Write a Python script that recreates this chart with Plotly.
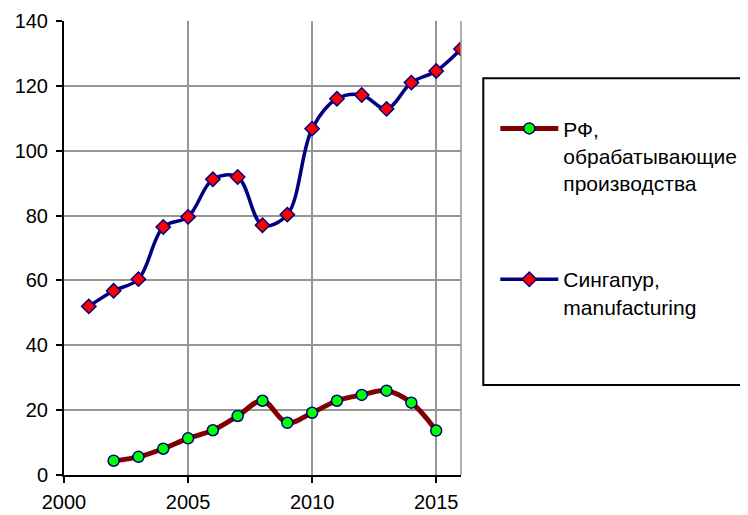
import plotly.graph_objects as go

years_sg = [2001, 2002, 2003, 2004, 2005, 2006, 2007, 2008, 2009, 2010, 2011, 2012, 2013, 2014, 2015, 2016]
sg_values = [52.0, 56.8, 60.4, 76.5, 79.6, 91.2, 91.9, 77.0, 80.3, 106.8, 116.0, 117.2, 112.9, 121.0, 124.6, 131.4]

years_rf = [2002, 2003, 2004, 2005, 2006, 2007, 2008, 2009, 2010, 2011, 2012, 2013, 2014, 2015]
rf_values = [4.4, 5.6, 8.1, 11.3, 13.8, 18.2, 22.9, 16.1, 19.2, 22.9, 24.7, 26.0, 22.3, 13.7]

name_rf = "РФ,<br>обрабатывающие<br>производства"
name_sg = "Сингапур,<br>manufacturing"

x_ticks = [2000, 2005, 2010, 2015]
y_ticks = [0, 20, 40, 60, 80, 100, 120, 140]

FONT = "Liberation Sans, Arial, sans-serif"
GRID = "#969696"

# page is offset by the 8px default body margin
OFF = 8
W, H = 748 - OFF, 515 - OFF
ML = 63.5 - OFF
MT = 20.7 - OFF
MR = W - (460.7 - OFF)
MB = H - (475 - OFF)
PH = H - MT - MB
PW = W - ML - MR


def px_x(x):
    return (x - OFF - ML) / PW


def px_y(y):
    return (H - MB - (y - OFF)) / PH


fig = go.Figure()
fig.add_trace(go.Scatter(
    x=years_rf, y=rf_values, name=name_rf, mode="lines+markers",
    line=dict(color="#800000", width=5, shape="spline", smoothing=1.0),
    marker=dict(symbol="circle", size=11, color="#00FF00", line=dict(color="#000080", width=1.5)),
    legendgroup="rf",
))
fig.add_trace(go.Scatter(
    x=years_sg, y=sg_values, name=name_sg, mode="lines+markers",
    line=dict(color="#000080", width=3.5, shape="spline", smoothing=1.0),
    marker=dict(symbol="diamond", size=11, color="#FF0000", line=dict(color="#000080", width=1.5)),
    legendgroup="sg",
))

# legend frame (extends past right edge as in the reference)
fig.add_shape(type="rect", xref="paper", yref="paper",
              x0=px_x(483), x1=px_x(800), y0=px_y(385), y1=px_y(78),
              line=dict(color="black", width=2), fillcolor="white", layer="below")
# right border of plot area
fig.add_shape(type="line", xref="paper", yref="paper", x0=1, x1=1, y0=0, y1=1,
              line=dict(color=GRID, width=1.5))

fig.update_layout(
    width=W, height=H,
    margin=dict(l=ML, r=MR, t=MT, b=MB, autoexpand=False),
    paper_bgcolor="white", plot_bgcolor="white",
    font=dict(family=FONT, size=20, color="black"),
    showlegend=True,
    legend=dict(
        x=px_x(495), y=px_y(108), xanchor="left", yanchor="top",
        font=dict(family=FONT, size=21, color="black"),
        bgcolor="rgba(0,0,0,0)", borderwidth=0,
        valign="top", tracegroupgap=66, traceorder="grouped",
        itemwidth=58,
    ),
    xaxis=dict(
        range=[2000, 2016], tickvals=x_ticks, ticktext=[str(v) for v in x_ticks],
        showgrid=True, gridcolor=GRID, gridwidth=1.5, zeroline=False,
        showline=True, linecolor="black", linewidth=2,
        ticks="outside", ticklen=6, tickwidth=2, tickcolor="black",
        ticklabelstandoff=2,
    ),
    yaxis=dict(
        range=[0, 140], tickvals=y_ticks, ticktext=[str(v) for v in y_ticks],
        showgrid=True, gridcolor=GRID, gridwidth=1.5, zeroline=False,
        showline=True, linecolor="black", linewidth=2,
        ticks="outside", ticklen=6, tickwidth=2, tickcolor="black",
        ticklabelstandoff=4,
    ),
)
fig.write_html("out.html")
